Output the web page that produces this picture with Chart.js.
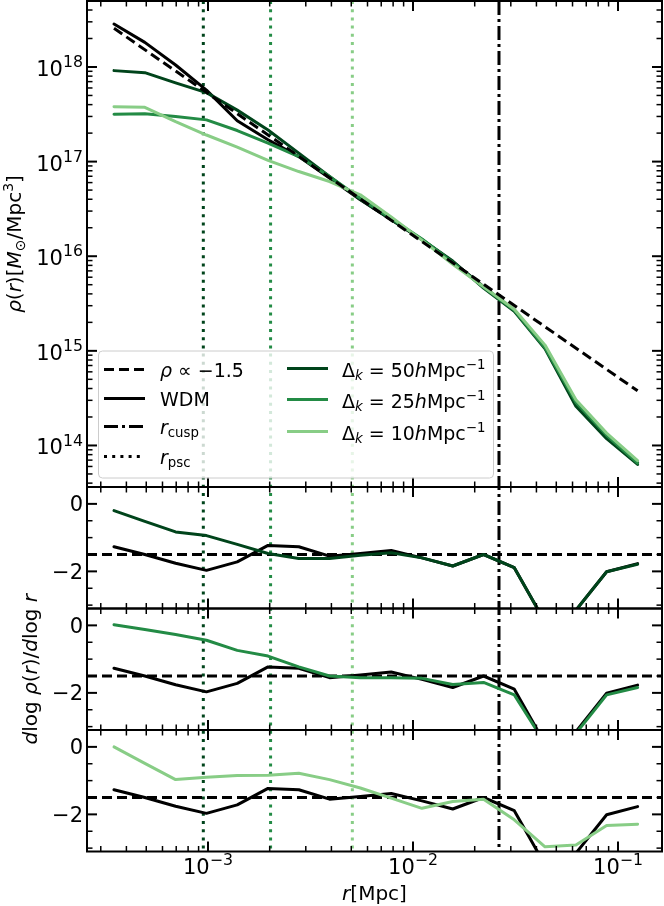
<!DOCTYPE html>
<html>
<head>
<meta charset="utf-8">
<script src="https://cdn.jsdelivr.net/npm/chart.js@4.4.1/dist/chart.umd.min.js"></script>
<style>
  html, body { margin: 0; padding: 0; background: #fff; }
  #wrap { width: 664px; height: 906px; }
</style>
</head>
<body>
<div id="wrap"><canvas id="fig" width="664" height="906"></canvas></div>
<script>
// radio de los bins del perfil [Mpc]
const radius = [3.481e-4, 4.920e-4, 6.952e-4, 9.833e-4, 1.389e-3, 1.963e-3, 2.773e-3, 3.918e-3, 5.536e-3,
  7.830e-3, 0.01106, 0.01563, 0.02209, 0.03120, 0.04406, 0.06233, 0.08799, 0.1246];

// densidad rho(r) [Msun/Mpc^3]
const rhoWDM = [2.84e18, 1.82e18, 1.05e18, 5.7e17, 2.7e17, 1.70e17, 1.13e17, 6.7e16, 3.95e16,
  2.43e16, 1.49e16, 8.75e15, 4.77e15, 2.66e15, 1.11e15, 2.71e14, 1.25e14, 6.6e13];
const rhoK50 = [9.15e17, 8.7e17, 6.8e17, 5.35e17, 3.5e17, 2.16e17, 1.23e17, 6.95e16, 3.98e16,
  2.45e16, 1.50e16, 8.9e15, 4.6e15, 2.62e15, 1.05e15, 2.6e14, 1.18e14, 6.3e13];
const rhoK25 = [3.16e17, 3.21e17, 2.99e17, 2.76e17, 2.13e17, 1.57e17, 1.13e17, 6.95e16, 4.1e16,
  2.5e16, 1.52e16, 8.6e15, 4.7e15, 2.68e15, 1.08e15, 2.85e14, 1.28e14, 6.5e13];
const rhoK10 = [3.81e17, 3.75e17, 2.65e17, 1.91e17, 1.42e17, 1.03e17, 7.85e16, 6.16e16, 4.46e16,
  2.6e16, 1.48e16, 8.2e15, 4.75e15, 2.75e15, 1.15e15, 3.05e14, 1.35e14, 6.9e13];

// pendiente logaritmica dlog rho / dlog r
const slopeWDM = [-1.27, -1.5, -1.76, -1.97, -1.72, -1.23, -1.27, -1.55, -1.47,
  -1.38, -1.6, -1.84, -1.5, -1.89, -3.5, -3.15, -2.01, -1.77];
const slopeK50 = [-0.2, -0.52, -0.83, -0.94, -1.2, -1.47, -1.62, -1.62, -1.52,
  -1.45, -1.6, -1.84, -1.5, -1.89, -3.5, -3.15, -2.01, -1.79];
const slopeK25 = [0.02, -0.12, -0.27, -0.44, -0.74, -0.91, -1.23, -1.5, -1.55,
  -1.55, -1.57, -1.75, -1.69, -2.06, -3.5, -3.2, -2.06, -1.84];
const slopeK10 = [0.0, -0.49, -0.97, -0.90, -0.85, -0.84, -0.78, -0.97, -1.22,
  -1.52, -1.82, -1.62, -1.55, -2.16, -2.96, -2.91, -2.33, -2.29];

// ley de potencias rho ~ r^-1.5 (extremos)
const powerLawR = [3.481e-4, 0.1246];
const powerLawRho = [2.56e18, 3.78e14];
const slopeRef = -1.5;

// radios caracteristicos
const rPsc = [9.49e-4, 2.02e-3, 5.06e-3];
const rCusp = 0.02627;

// rangos y ticks
const xRange = [2.57e-4, 0.1639];
const rhoRange = [3.64e13, 4.98e18];
const slopeRange = [-3.1, 0.5];
const xTickExp = [-3, -2, -1];
const rhoTickExp = [14, 15, 16, 17, 18];
const slopeTicks = [0, -2];
const slopeMinorTicks = [-0.5, -1, -1.5, -2.5, -3];

const BLACK = "#000000";
const GREENS = ["#00441b", "#238b45", "#88cd86"];
const FAMILY = '"DejaVu Sans", sans-serif';

// etiquetas: [texto, estilo] con i = cursiva, _ = subindice, ^ = superindice
const legendLeft = [
  { parts: [["ρ", "i"], [" ∝ −1.5"]], dash: [10, 5] },
  { parts: [["WDM"]], dash: [] },
  { parts: [["r", "i"], ["cusp", "_"]], dash: [14, 4, 3, 4] },
  { parts: [["r", "i"], ["psc", "_"]], dash: [3, 5.2] },
];
const legendRight = ["50", "25", "10"].map((k) => [["Δ"], ["k", "i_"], [" = " + k], ["h", "i"], ["Mpc"], ["−1", "^"]]);

function pts(xs, ys) {
  return xs.map((x, i) => ({ x, y: ys[i] }));
}

function line(data, yAxisID, color, order, dash) {
  return {
    data, yAxisID, xAxisID: "x", order,
    borderColor: color, borderWidth: 3, borderDash: dash || [],
    borderJoinStyle: "round", borderCapStyle: dash ? "butt" : "round",
    pointRadius: 0, tension: 0, fill: false,
  };
}

const hline = pts(xRange, [slopeRef, slopeRef]);

const datasets = [
  line(pts(radius, rhoWDM), "rho", BLACK, 9),
  line(pts(radius, rhoK50), "rho", GREENS[0], 8),
  line(pts(radius, rhoK25), "rho", GREENS[1], 7),
  line(pts(radius, rhoK10), "rho", GREENS[2], 6),
  line(pts(powerLawR, powerLawRho), "rho", BLACK, 1, [10, 5]),
  line(hline, "s1", BLACK, 12, [10, 5]),
  line(pts(radius, slopeWDM), "s1", BLACK, 11),
  line(pts(radius, slopeK50), "s1", GREENS[0], 10),
  line(hline, "s2", BLACK, 12, [10, 5]),
  line(pts(radius, slopeWDM), "s2", BLACK, 11),
  line(pts(radius, slopeK25), "s2", GREENS[1], 10),
  line(hline, "s3", BLACK, 12, [10, 5]),
  line(pts(radius, slopeWDM), "s3", BLACK, 11),
  line(pts(radius, slopeK10), "s3", GREENS[2], 10),
];

// ---- texto con sub/superindices ----
function setFont(ctx, size, italic) {
  ctx.font = (italic ? "italic " : "normal ") + size + "px " + FAMILY;
}
function richWidth(ctx, parts, size, shrink) {
  let w = 0;
  for (const [t, st = ""] of parts) {
    const small = st.includes("_") || st.includes("^");
    setFont(ctx, small ? size * shrink : size, st.includes("i"));
    w += ctx.measureText(t).width;
  }
  return w;
}
function drawRich(ctx, parts, x, y, size, align, shrink = 0.7) {
  const w = richWidth(ctx, parts, size, shrink);
  let cx = align === "center" ? x - w / 2 : align === "right" ? x - w : x;
  ctx.textAlign = "left";
  ctx.textBaseline = "alphabetic";
  ctx.fillStyle = BLACK;
  for (const [t, st = ""] of parts) {
    const small = st.includes("_") || st.includes("^");
    setFont(ctx, small ? size * shrink : size, st.includes("i"));
    const dy = st.includes("^") ? -0.42 * size : st.includes("_") ? 0.2 * size : 0;
    ctx.fillText(t, cx, y + dy);
    cx += ctx.measureText(t).width;
  }
}
const minus = (v) => (v < 0 ? "−" + Math.abs(v) : String(v));

function logMinors(lo, hi) {
  const out = [];
  for (let e = Math.floor(Math.log10(lo)); e <= Math.ceil(Math.log10(hi)); e++) {
    for (let m = 2; m <= 9; m++) {
      const v = m * Math.pow(10, e);
      if (v > lo && v < hi) out.push(v);
    }
  }
  return out;
}

function seg(ctx, x0, y0, x1, y1, w) {
  ctx.lineWidth = w;
  ctx.beginPath();
  ctx.moveTo(x0, y0);
  ctx.lineTo(x1, y1);
  ctx.stroke();
}

// recorta cada serie a su propio panel
const panelClip = {
  id: "panelClip",
  beforeDatasetDraw(c, args) {
    const ys = args.meta.yScale, a = c.chartArea, ctx = c.ctx;
    ctx.save();
    ctx.beginPath();
    ctx.rect(a.left, ys.top, a.right - a.left, ys.bottom - ys.top);
    ctx.clip();
  },
  afterDatasetDraw(c) {
    c.ctx.restore();
  },
};

// lineas verticales r_psc / r_cusp sobre todos los paneles
const radiusLines = {
  id: "radiusLines",
  beforeDatasetsDraw(c) {
    const ctx = c.ctx, a = c.chartArea, x = c.scales.x;
    ctx.save();
    ctx.lineCap = "butt";
    rPsc.forEach((r, i) => {
      ctx.strokeStyle = GREENS[i];
      ctx.setLineDash([3, 5.2]);
      const px = x.getPixelForValue(r);
      seg(ctx, px, a.top, px, a.bottom, 3);
    });
    ctx.strokeStyle = BLACK;
    ctx.setLineDash([14, 4, 3, 4]);
    const pc = x.getPixelForValue(rCusp);
    seg(ctx, pc, a.top, pc, a.bottom, 3);
    ctx.restore();
  },
};

// marcos, ticks hacia dentro, etiquetas y leyenda
const frames = {
  id: "frames",
  afterDatasetsDraw(c) {
    const ctx = c.ctx, a = c.chartArea, x = c.scales.x;
    const xMajor = xTickExp.map((e) => Math.pow(10, e));
    const xMinor = logMinors(xRange[0], xRange[1]);
    const panels = [
      { s: c.scales.rho, major: rhoTickExp.map((e) => Math.pow(10, e)), minor: logMinors(rhoRange[0], rhoRange[1]) },
      { s: c.scales.s1, major: slopeTicks, minor: slopeMinorTicks },
      { s: c.scales.s2, major: slopeTicks, minor: slopeMinorTicks },
      { s: c.scales.s3, major: slopeTicks, minor: slopeMinorTicks },
    ];
    ctx.save();
    ctx.strokeStyle = BLACK;
    ctx.setLineDash([]);
    ctx.lineCap = "butt";
    for (const p of panels) {
      const top = p.s.top, bot = p.s.bottom;
      for (const [vals, len, w] of [[xMajor, 10, 2], [xMinor, 5.5, 1.5]]) {
        for (const v of vals) {
          const px = x.getPixelForValue(v);
          seg(ctx, px, bot, px, bot - len, w);
          seg(ctx, px, top, px, top + len, w);
        }
      }
      for (const [vals, len, w] of [[p.major, 10, 2], [p.minor, 5.5, 1.5]]) {
        for (const v of vals) {
          const py = p.s.getPixelForValue(v);
          seg(ctx, a.left, py, a.left + len, py, w);
          seg(ctx, a.right, py, a.right - len, py, w);
        }
      }
      ctx.lineWidth = 2;
      ctx.strokeRect(a.left, top, a.right - a.left, bot - top);
    }

    // etiquetas de ticks
    const rho = c.scales.rho;
    rhoTickExp.forEach((e) => {
      drawRich(ctx, [["10"], [String(e), "^"]], a.left - 4, rho.getPixelForValue(Math.pow(10, e)) + 9, 21, "right", 0.75);
    });
    for (const id of ["s1", "s2", "s3"]) {
      const s = c.scales[id];
      slopeTicks.forEach((v) => drawRich(ctx, [[minus(v)]], a.left - 4, s.getPixelForValue(v) + 7.5, 21, "right"));
    }
    xTickExp.forEach((e) => {
      drawRich(ctx, [["10"], [minus(e), "^"]], x.getPixelForValue(Math.pow(10, e)), a.bottom + 22, 21, "center", 0.75);
    });

    // titulos de ejes
    drawRich(ctx, [["r", "i"], ["[Mpc]"]], (a.left + a.right) / 2, 900, 20, "center");
    ctx.save();
    ctx.translate(21, (rho.top + rho.bottom) / 2);
    ctx.rotate(-Math.PI / 2);
    drawRich(ctx, [["ρ", "i"], ["("], ["r", "i"], [")["], ["M", "i"], ["⊙", "_"], ["/Mpc"], ["3", "^"], ["]"]], 0, 0, 20, "center");
    ctx.restore();
    const s2 = c.scales.s2;
    ctx.save();
    ctx.translate(37, (s2.top + s2.bottom) / 2);
    ctx.rotate(-Math.PI / 2);
    drawRich(ctx, [["d", "i"], ["log "], ["ρ", "i"], ["("], ["r", "i"], [")/"], ["d", "i"], ["log "], ["r", "i"]], 0, 0, 20, "center");
    ctx.restore();

    // leyenda
    const bx = a.left + 11, bw = 395, bh = 127, by = rho.bottom - 9.5 - bh;
    ctx.beginPath();
    ctx.roundRect(bx + 0.5, by + 0.5, bw, bh, 4);
    ctx.fillStyle = "rgba(255,255,255,0.8)";
    ctx.fill();
    ctx.strokeStyle = "#cccccc";
    ctx.lineWidth = 1;
    ctx.stroke();
    ctx.strokeStyle = BLACK;
    const rowsL = [19, 48, 76, 106];
    legendLeft.forEach((it, i) => {
      const hy = by + rowsL[i];
      ctx.setLineDash(it.dash);
      seg(ctx, bx + 6, hy, bx + 47, hy, 3);
      drawRich(ctx, it.parts, bx + 62, hy + 7, 19, "left");
    });
    ctx.setLineDash([]);
    const rowsR = [18, 49, 81];
    legendRight.forEach((parts, i) => {
      const hy = by + rowsR[i];
      ctx.strokeStyle = GREENS[i];
      seg(ctx, bx + 189, hy, bx + 230, hy, 3);
      drawRich(ctx, parts, bx + 244, hy + 8, 19, "left");
    });
    ctx.restore();
  },
};

const hidden = {
  grid: { display: false },
  border: { display: false },
  ticks: { display: false },
  bounds: "data",
};

new Chart(document.getElementById("fig"), {
  type: "line",
  data: { datasets },
  options: {
    responsive: false,
    animation: false,
    events: [],
    layout: { padding: { left: 87, right: 2, top: 1, bottom: 54.5 } },
    plugins: { legend: { display: false }, tooltip: { enabled: false } },
    scales: {
      x: { type: "logarithmic", position: "bottom", min: xRange[0], max: xRange[1], ...hidden,
        afterFit: (s) => { s.height = 0; } },
      rho: { type: "logarithmic", position: "left", stack: "panels", stackWeight: 4, weight: 4,
        min: rhoRange[0], max: rhoRange[1], ...hidden, afterFit: (s) => { s.width = 0; } },
      s1: { type: "linear", position: "left", stack: "panels", stackWeight: 1, weight: 3,
        min: slopeRange[0], max: slopeRange[1], ...hidden, afterFit: (s) => { s.width = 0; } },
      s2: { type: "linear", position: "left", stack: "panels", stackWeight: 1, weight: 2,
        min: slopeRange[0], max: slopeRange[1], ...hidden, afterFit: (s) => { s.width = 0; } },
      s3: { type: "linear", position: "left", stack: "panels", stackWeight: 1, weight: 1,
        min: slopeRange[0], max: slopeRange[1], ...hidden, afterFit: (s) => { s.width = 0; } },
    },
  },
  plugins: [panelClip, radiusLines, frames],
});
</script>
</body>
</html>
